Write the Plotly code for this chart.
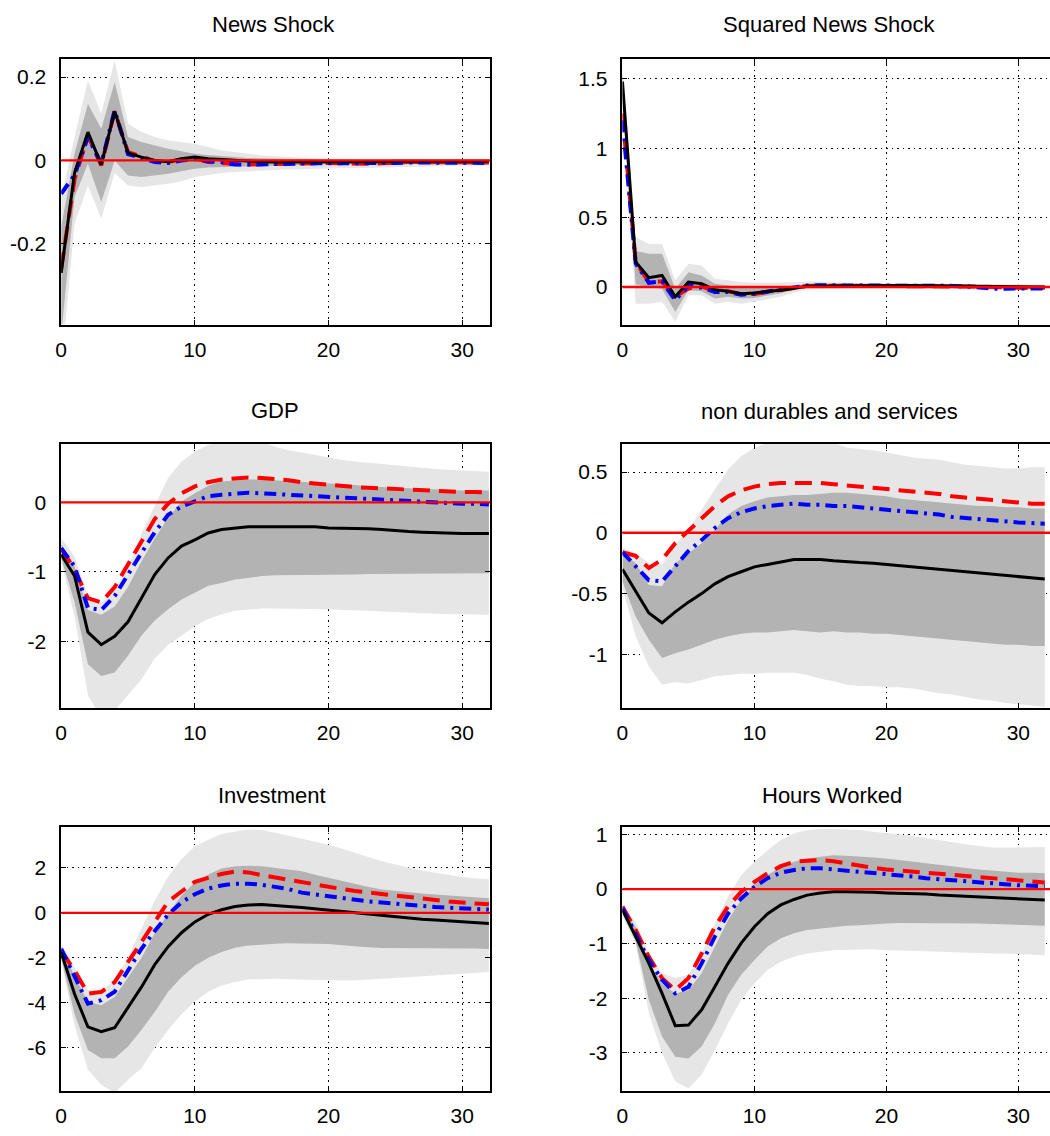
import plotly.graph_objects as go
from plotly.subplots import make_subplots

horizons = list(range(33))

titles = ["News Shock", "Squared News Shock", "GDP", "non durables and services", "Investment", "Hours Worked"]

# ---------- News Shock ----------
news_black = [-0.27, -0.03, 0.068, -0.01, 0.118, 0.018, 0.008, 0.0, -0.003, 0.004, 0.008, 0.004, 0.002, 0.0, -0.002, -0.003, -0.004, -0.004, -0.004, -0.003, -0.003, -0.003, -0.004, -0.004, -0.003, -0.002, -0.002, -0.002, -0.002, -0.002, -0.002, -0.002, -0.002]
news_blue = [-0.08, -0.035, 0.056, -0.008, 0.12, 0.015, 0.006, -0.004, -0.006, 0.0, 0.003, -0.002, -0.004, -0.01, -0.01, -0.009, -0.009, -0.008, -0.008, -0.007, -0.007, -0.007, -0.008, -0.008, -0.007, -0.006, -0.005, -0.005, -0.005, -0.005, -0.005, -0.006, -0.006]
news_red = [-0.26, -0.045, 0.06, -0.012, 0.118, 0.02, 0.01, -0.002, -0.004, 0.002, 0.005, -0.004, -0.006, -0.009, -0.01, -0.009, -0.008, -0.008, -0.007, -0.007, -0.006, -0.007, -0.008, -0.008, -0.007, -0.005, -0.004, -0.004, -0.004, -0.004, -0.004, -0.005, -0.005]
news_light_hi = [-0.09, 0.056, 0.192, 0.112, 0.24, 0.088, 0.068, 0.056, 0.048, 0.044, 0.04, 0.032, 0.024, 0.02, 0.016, 0.012, 0.01, 0.008, 0.006, 0.005, 0.004, 0.004, 0.003, 0.003, 0.002, 0.002, 0.002, 0.001, 0.001, 0.001, 0.001, 0.001, 0.001]
news_dark_hi = [-0.16, 0.016, 0.136, 0.076, 0.188, 0.056, 0.044, 0.036, 0.028, 0.022, 0.016, 0.013, 0.01, 0.008, 0.006, 0.005, 0.004, 0.003, 0.002, 0.002, 0.002, 0.001, 0.001, 0.001, 0.0, 0.0, 0.0, 0.0, 0.0, 0.0, 0.0, 0.0, 0.0]
news_dark_lo = [-0.42, -0.088, -0.008, -0.1, 0.0, -0.036, -0.04, -0.036, -0.032, -0.026, -0.02, -0.017, -0.016, -0.015, -0.014, -0.013, -0.012, -0.011, -0.01, -0.01, -0.009, -0.009, -0.009, -0.008, -0.008, -0.008, -0.007, -0.007, -0.007, -0.006, -0.006, -0.006, -0.006]
news_light_lo = [-0.5, -0.152, -0.06, -0.14, -0.03, -0.06, -0.064, -0.06, -0.056, -0.05, -0.04, -0.035, -0.03, -0.028, -0.026, -0.024, -0.023, -0.022, -0.021, -0.02, -0.02, -0.019, -0.019, -0.018, -0.017, -0.016, -0.015, -0.014, -0.013, -0.012, -0.012, -0.012, -0.012]

# ---------- Squared News Shock ----------
sq_black = [1.48, 0.18, 0.067, 0.083, -0.07, 0.036, 0.024, -0.02, -0.03, -0.048, -0.043, -0.03, -0.024, -0.012, 0.005, 0.007, 0.008, 0.009, 0.01, 0.01, 0.01, 0.01, 0.01, 0.009, 0.008, 0.007, 0.006, 0.004, 0.002, 0.0, 0.0, 0.0, 0.0]
sq_blue = [1.2, 0.17, 0.03, 0.04, -0.095, 0.012, -0.005, -0.036, -0.036, -0.055, -0.048, -0.035, -0.02, -0.005, 0.01, 0.012, 0.012, 0.013, 0.013, 0.013, 0.012, 0.012, 0.012, 0.011, 0.01, 0.008, 0.004, -0.005, -0.012, -0.012, -0.012, -0.012, -0.01]
sq_red = [1.25, 0.18, 0.036, 0.04, -0.07, -0.012, 0.005, -0.03, -0.03, -0.052, -0.05, -0.035, -0.02, -0.004, 0.008, 0.01, 0.01, 0.01, 0.01, 0.01, 0.01, 0.01, 0.01, 0.01, 0.009, 0.008, 0.006, 0.003, 0.0, -0.005, -0.008, -0.008, -0.006]
sq_light_hi = [1.6, 0.36, 0.31, 0.31, 0.048, 0.167, 0.155, 0.06, 0.048, 0.036, 0.03, 0.03, 0.03, 0.035, 0.04, 0.04, 0.035, 0.03, 0.03, 0.03, 0.03, 0.03, 0.028, 0.026, 0.025, 0.024, 0.022, 0.02, 0.02, 0.02, 0.02, 0.02, 0.02]
sq_dark_hi = [1.55, 0.26, 0.24, 0.24, -0.012, 0.107, 0.083, 0.024, 0.012, -0.005, -0.005, -0.002, 0.0, 0.01, 0.02, 0.022, 0.022, 0.02, 0.02, 0.02, 0.02, 0.02, 0.018, 0.017, 0.016, 0.015, 0.013, 0.01, 0.01, 0.01, 0.01, 0.01, 0.01]
sq_dark_lo = [1.38, 0.02, 0.0, -0.012, -0.18, -0.024, -0.03, -0.083, -0.07, -0.083, -0.079, -0.06, -0.045, -0.02, -0.005, -0.002, 0.0, 0.0, 0.0, 0.0, 0.0, 0.0, 0.0, 0.0, -0.002, -0.004, -0.006, -0.01, -0.012, -0.012, -0.012, -0.012, -0.012]
sq_light_lo = [1.3, -0.12, -0.12, -0.107, -0.25, -0.06, -0.06, -0.12, -0.107, -0.12, -0.107, -0.09, -0.07, -0.04, -0.02, -0.015, -0.012, -0.01, -0.01, -0.01, -0.01, -0.01, -0.01, -0.012, -0.014, -0.016, -0.018, -0.02, -0.022, -0.022, -0.022, -0.022, -0.022]

# ---------- GDP ----------
gdp_black = [-0.75, -1.06, -1.87, -2.05, -1.93, -1.72, -1.38, -1.04, -0.8, -0.63, -0.54, -0.44, -0.39, -0.37, -0.35, -0.35, -0.35, -0.35, -0.35, -0.35, -0.37, -0.37, -0.38, -0.38, -0.39, -0.41, -0.42, -0.43, -0.44, -0.44, -0.45, -0.45, -0.45]
gdp_red = [-0.66, -0.97, -1.38, -1.44, -1.22, -0.9, -0.56, -0.24, -0.02, 0.13, 0.23, 0.29, 0.33, 0.35, 0.36, 0.35, 0.34, 0.32, 0.29, 0.27, 0.25, 0.23, 0.22, 0.21, 0.2, 0.19, 0.18, 0.17, 0.16, 0.16, 0.15, 0.15, 0.14]
gdp_blue = [-0.66, -0.92, -1.52, -1.55, -1.35, -1.03, -0.73, -0.43, -0.18, -0.06, 0.01, 0.09, 0.11, 0.12, 0.14, 0.13, 0.12, 0.11, 0.1, 0.09, 0.08, 0.07, 0.06, 0.05, 0.04, 0.03, 0.01, 0.0, -0.01, -0.01, -0.02, -0.02, -0.03]
gdp_light_hi = [-0.51, -0.78, -1.35, -1.45, -1.25, -0.95, -0.45, -0.05, 0.35, 0.59, 0.73, 0.83, 0.87, 0.9, 0.9, 0.88, 0.8, 0.75, 0.72, 0.68, 0.64, 0.61, 0.59, 0.57, 0.55, 0.54, 0.52, 0.5, 0.48, 0.47, 0.46, 0.45, 0.44]
gdp_dark_hi = [-0.6, -0.92, -1.55, -1.62, -1.5, -1.22, -0.85, -0.52, -0.22, 0.01, 0.13, 0.24, 0.3, 0.32, 0.33, 0.33, 0.32, 0.31, 0.3, 0.29, 0.28, 0.27, 0.25, 0.23, 0.22, 0.21, 0.2, 0.19, 0.18, 0.18, 0.17, 0.17, 0.17]
gdp_dark_lo = [-0.8, -1.44, -2.33, -2.5, -2.45, -2.21, -1.92, -1.7, -1.54, -1.4, -1.3, -1.2, -1.16, -1.11, -1.09, -1.06, -1.05, -1.05, -1.05, -1.05, -1.05, -1.04, -1.04, -1.03, -1.03, -1.03, -1.02, -1.02, -1.02, -1.02, -1.02, -1.02, -1.02]
gdp_light_lo = [-0.85, -1.64, -2.78, -3.1, -3.0, -2.78, -2.55, -2.25, -2.05, -1.92, -1.78, -1.68, -1.61, -1.56, -1.54, -1.53, -1.53, -1.53, -1.53, -1.54, -1.54, -1.55, -1.55, -1.56, -1.57, -1.58, -1.59, -1.59, -1.6, -1.61, -1.61, -1.62, -1.62]

# ---------- non durables and services ----------
nds_black = [-0.3, -0.48, -0.66, -0.74, -0.65, -0.57, -0.5, -0.42, -0.36, -0.32, -0.28, -0.26, -0.24, -0.22, -0.22, -0.22, -0.23, -0.24, -0.245, -0.25, -0.26, -0.27, -0.28, -0.29, -0.3, -0.31, -0.32, -0.33, -0.34, -0.35, -0.36, -0.37, -0.38]
nds_red = [-0.16, -0.19, -0.29, -0.22, -0.085, 0.02, 0.12, 0.22, 0.3, 0.35, 0.38, 0.4, 0.41, 0.41, 0.41, 0.41, 0.4, 0.39, 0.38, 0.37, 0.36, 0.35, 0.34, 0.33, 0.32, 0.3, 0.29, 0.28, 0.27, 0.26, 0.25, 0.24, 0.24]
nds_blue = [-0.16, -0.28, -0.39, -0.4, -0.28, -0.15, -0.06, 0.04, 0.12, 0.17, 0.2, 0.22, 0.23, 0.24, 0.23, 0.23, 0.22, 0.22, 0.21, 0.2, 0.19, 0.18, 0.17, 0.16, 0.15, 0.13, 0.12, 0.11, 0.1, 0.09, 0.085, 0.08, 0.075]
nds_light_hi = [-0.12, -0.17, -0.25, -0.26, -0.1, 0.03, 0.19, 0.35, 0.52, 0.63, 0.7, 0.74, 0.75, 0.75, 0.75, 0.75, 0.74, 0.7, 0.69, 0.68, 0.66, 0.64, 0.62, 0.61, 0.6, 0.58, 0.56, 0.55, 0.54, 0.53, 0.53, 0.54, 0.54]
nds_dark_hi = [-0.16, -0.25, -0.43, -0.44, -0.25, -0.17, -0.085, 0.025, 0.15, 0.22, 0.26, 0.29, 0.3, 0.31, 0.31, 0.32, 0.33, 0.33, 0.32, 0.31, 0.3, 0.28, 0.27, 0.26, 0.25, 0.24, 0.23, 0.22, 0.22, 0.21, 0.21, 0.2, 0.2]
nds_dark_lo = [-0.4, -0.69, -0.88, -1.03, -0.99, -0.96, -0.92, -0.88, -0.85, -0.83, -0.82, -0.82, -0.81, -0.8, -0.81, -0.82, -0.81, -0.82, -0.82, -0.83, -0.83, -0.84, -0.85, -0.86, -0.87, -0.88, -0.89, -0.9, -0.91, -0.92, -0.92, -0.93, -0.93]
nds_light_lo = [-0.45, -0.85, -1.1, -1.25, -1.23, -1.24, -1.21, -1.18, -1.17, -1.16, -1.16, -1.15, -1.15, -1.15, -1.17, -1.2, -1.22, -1.25, -1.26, -1.26, -1.27, -1.27, -1.28, -1.3, -1.32, -1.33, -1.35, -1.37, -1.38, -1.4, -1.41, -1.42, -1.43]

# ---------- Investment ----------
inv_black = [-1.75, -3.6, -5.06, -5.28, -5.1, -4.2, -3.3, -2.3, -1.5, -0.88, -0.4, -0.06, 0.14, 0.28, 0.35, 0.37, 0.34, 0.28, 0.24, 0.18, 0.12, 0.05, -0.01, -0.06, -0.12, -0.18, -0.23, -0.28, -0.32, -0.36, -0.4, -0.44, -0.47]
inv_red = [-1.68, -2.56, -3.59, -3.51, -3.07, -2.15, -1.3, -0.4, 0.5, 0.95, 1.38, 1.56, 1.73, 1.84, 1.8, 1.68, 1.57, 1.47, 1.38, 1.26, 1.15, 1.06, 0.97, 0.9, 0.82, 0.75, 0.68, 0.62, 0.56, 0.51, 0.46, 0.42, 0.38]
inv_blue = [-1.6, -2.85, -4.03, -3.88, -3.5, -2.56, -1.6, -0.8, -0.08, 0.47, 0.83, 1.08, 1.22, 1.3, 1.3, 1.25, 1.16, 1.06, 0.9, 0.82, 0.75, 0.66, 0.57, 0.51, 0.46, 0.4, 0.34, 0.3, 0.26, 0.23, 0.21, 0.18, 0.15]
inv_light_hi = [-1.38, -2.4, -3.44, -3.44, -3.0, -1.97, -0.7, 0.55, 1.6, 2.4, 2.95, 3.25, 3.5, 3.62, 3.7, 3.68, 3.56, 3.42, 3.3, 3.15, 3.03, 2.85, 2.66, 2.48, 2.29, 2.15, 2.0, 1.88, 1.78, 1.68, 1.59, 1.53, 1.49]
inv_dark_hi = [-1.5, -2.8, -3.96, -4.1, -3.74, -2.85, -2.0, -0.9, -0.03, 0.77, 1.35, 1.71, 1.97, 2.07, 2.1, 2.07, 2.0, 1.9, 1.85, 1.7, 1.56, 1.4, 1.26, 1.15, 1.04, 0.97, 0.9, 0.86, 0.82, 0.78, 0.75, 0.7, 0.65]
inv_dark_lo = [-2.0, -4.5, -6.09, -6.46, -6.46, -5.94, -5.2, -4.4, -3.5, -2.86, -2.35, -1.99, -1.74, -1.55, -1.45, -1.4, -1.37, -1.35, -1.35, -1.36, -1.38, -1.44, -1.5, -1.53, -1.56, -1.56, -1.56, -1.56, -1.56, -1.57, -1.57, -1.58, -1.6]
inv_light_lo = [-2.1, -5.0, -6.97, -7.63, -8.0, -7.41, -6.9, -6.0, -5.2, -4.5, -3.94, -3.5, -3.22, -3.07, -2.96, -2.93, -2.93, -2.95, -2.97, -2.99, -3.0, -3.0, -2.99, -2.97, -2.93, -2.89, -2.85, -2.81, -2.78, -2.74, -2.7, -2.66, -2.63]

# ---------- Hours Worked ----------
hrs_black = [-0.38, -0.87, -1.36, -1.91, -2.5, -2.49, -2.21, -1.79, -1.36, -0.99, -0.69, -0.45, -0.29, -0.19, -0.11, -0.07, -0.05, -0.05, -0.05, -0.06, -0.07, -0.075, -0.08, -0.09, -0.11, -0.12, -0.14, -0.15, -0.16, -0.165, -0.17, -0.18, -0.2]
hrs_red = [-0.32, -0.75, -1.24, -1.63, -1.85, -1.63, -1.18, -0.69, -0.32, -0.05, 0.13, 0.29, 0.42, 0.5, 0.52, 0.53, 0.51, 0.47, 0.42, 0.39, 0.36, 0.34, 0.32, 0.3, 0.27, 0.25, 0.23, 0.21, 0.19, 0.17, 0.15, 0.13, 0.12]
hrs_blue = [-0.35, -0.81, -1.3, -1.66, -1.91, -1.79, -1.36, -0.87, -0.45, -0.17, 0.04, 0.2, 0.3, 0.35, 0.38, 0.38, 0.36, 0.34, 0.32, 0.3, 0.27, 0.25, 0.23, 0.2, 0.18, 0.16, 0.14, 0.12, 0.1, 0.08, 0.07, 0.06, 0.05]
hrs_light_hi = [-0.3, -0.6, -1.18, -1.54, -1.63, -1.57, -1.18, -0.63, -0.14, 0.26, 0.5, 0.71, 0.9, 1.02, 1.08, 1.1, 1.1, 1.09, 1.08, 1.05, 1.03, 1.0, 0.97, 0.93, 0.9, 0.86, 0.82, 0.79, 0.76, 0.76, 0.76, 0.77, 0.77]
hrs_dark_hi = [-0.33, -0.7, -1.33, -1.73, -1.91, -1.85, -1.54, -1.05, -0.57, -0.2, 0.07, 0.26, 0.41, 0.5, 0.56, 0.59, 0.62, 0.61, 0.6, 0.58, 0.56, 0.53, 0.51, 0.47, 0.44, 0.41, 0.38, 0.36, 0.34, 0.32, 0.3, 0.3, 0.29]
hrs_dark_lo = [-0.45, -0.95, -2.03, -2.7, -3.07, -3.1, -2.88, -2.46, -1.94, -1.57, -1.3, -1.05, -0.9, -0.81, -0.75, -0.72, -0.69, -0.67, -0.66, -0.64, -0.63, -0.62, -0.62, -0.62, -0.62, -0.62, -0.63, -0.63, -0.64, -0.65, -0.66, -0.66, -0.67]
hrs_light_lo = [-0.5, -1.0, -2.27, -3.0, -3.52, -3.65, -3.4, -2.95, -2.46, -2.03, -1.73, -1.48, -1.33, -1.24, -1.18, -1.15, -1.12, -1.11, -1.1, -1.1, -1.12, -1.12, -1.13, -1.14, -1.15, -1.16, -1.17, -1.17, -1.18, -1.18, -1.19, -1.2, -1.21]

# tick labels
x_tickvals = [0, 10, 20, 30]
x_ticktext = ["0", "10", "20", "30"]
y_tickvals = [[-0.2, 0, 0.2], [0, 0.5, 1, 1.5], [-2, -1, 0], [-1, -0.5, 0, 0.5], [-6, -4, -2, 0, 2], [-3, -2, -1, 0, 1]]
y_ticktext = [["-0.2", "0", "0.2"], ["0", "0.5", "1", "1.5"], ["-2", "-1", "0"], ["-1", "-0.5", "0", "0.5"], ["-6", "-4", "-2", "0", "2"], ["-3", "-2", "-1", "0", "1"]]
y_ranges = [[-0.394, 0.244], [-0.271, 1.645], [-2.96, 0.84], [-1.44, 0.73], [-7.92, 3.8], [-3.70, 1.13]]
ZERO = 0

panels = [
    (news_black, news_red, news_blue, news_light_lo, news_light_hi, news_dark_lo, news_dark_hi),
    (sq_black, sq_red, sq_blue, sq_light_lo, sq_light_hi, sq_dark_lo, sq_dark_hi),
    (gdp_black, gdp_red, gdp_blue, gdp_light_lo, gdp_light_hi, gdp_dark_lo, gdp_dark_hi),
    (nds_black, nds_red, nds_blue, nds_light_lo, nds_light_hi, nds_dark_lo, nds_dark_hi),
    (inv_black, inv_red, inv_blue, inv_light_lo, inv_light_hi, inv_dark_lo, inv_dark_hi),
    (hrs_black, hrs_red, hrs_blue, hrs_light_lo, hrs_light_hi, hrs_dark_lo, hrs_dark_hi),
]

W, H = 1050, 1136
LIGHT = "rgb(230,230,230)"
DARK = "rgb(179,179,179)"
FONT = "Liberation Sans, Arial, sans-serif"

fig = make_subplots(rows=3, cols=2)

for i, (blk, red, blu, llo, lhi, dlo, dhi) in enumerate(panels):
    r, c = i // 2 + 1, i % 2 + 1
    common = dict(x=horizons, mode="lines", hoverinfo="skip", showlegend=False)
    fig.add_trace(go.Scatter(y=llo, line=dict(width=0, color=LIGHT), **common), row=r, col=c)
    fig.add_trace(go.Scatter(y=lhi, line=dict(width=0, color=LIGHT), fill="tonexty", fillcolor=LIGHT, **common), row=r, col=c)
    fig.add_trace(go.Scatter(y=dlo, line=dict(width=0, color=DARK), **common), row=r, col=c)
    fig.add_trace(go.Scatter(y=dhi, line=dict(width=0, color=DARK), fill="tonexty", fillcolor=DARK, **common), row=r, col=c)
    fig.add_trace(go.Scatter(y=red, line=dict(width=4, color="#ff0000", dash="17px,9px"), **common), row=r, col=c)
    fig.add_trace(go.Scatter(y=blu, line=dict(width=4, color="#0000ff", dash="12px,6px,3px,6px"), **common), row=r, col=c)
    fig.add_trace(go.Scatter(y=blk, line=dict(width=3, color="#000000"), **common), row=r, col=c)
    fig.add_hline(y=ZERO, line=dict(color="#ff0000", width=2.4), row=r, col=c)

# layout geometry (pixels)
left_x = (55.5, 487.0)
right_x = (620.0, 1050.0)
rows_px = [(54, 321), (441, 706), (826, 1091)]
x_ranges = {1: [0, 32.1], 2: [0, 32.4]}

for i in range(6):
    r, c = i // 2 + 1, i % 2 + 1
    xp = left_x if c == 1 else right_x
    top, bot = rows_px[r - 1]
    axis_common = dict(showline=True, linecolor="black", linewidth=1.5,
                       ticks="inside", ticklen=5, tickcolor="black", tickwidth=1,
                       showgrid=True, gridcolor="black", gridwidth=1.2, griddash="1.5px,4px",
                       zeroline=False,
                       tickfont=dict(family=FONT, size=21, color="black"))
    fig.update_xaxes(domain=[xp[0] / W, min(xp[1] / W, 1.0)], range=x_ranges[c],
                     tickvals=x_tickvals, ticktext=x_ticktext,
                     mirror="allticks", ticklabelstandoff=5,
                     row=r, col=c, **axis_common)
    fig.update_yaxes(domain=[1 - bot / H, 1 - top / H], range=y_ranges[i],
                     tickvals=y_tickvals[i], ticktext=y_ticktext[i],
                     mirror="allticks" if c == 1 else False, ticklabelstandoff=9,
                     row=r, col=c, **axis_common)

title_pos = [(269, 20), (828, 20), (271, 407), (828, 408), (268, 794), (831, 794)]
for t, (px, py) in zip(titles, title_pos):
    fig.add_annotation(text=t, x=px / W, y=1 - py / H, xref="paper", yref="paper",
                       xanchor="center", yanchor="middle", showarrow=False,
                       font=dict(family=FONT, size=22, color="black"))

fig.update_layout(width=W, height=H, margin=dict(l=0, r=0, t=0, b=0),
                  paper_bgcolor="white", plot_bgcolor="white")

fig.write_html("out.html")
